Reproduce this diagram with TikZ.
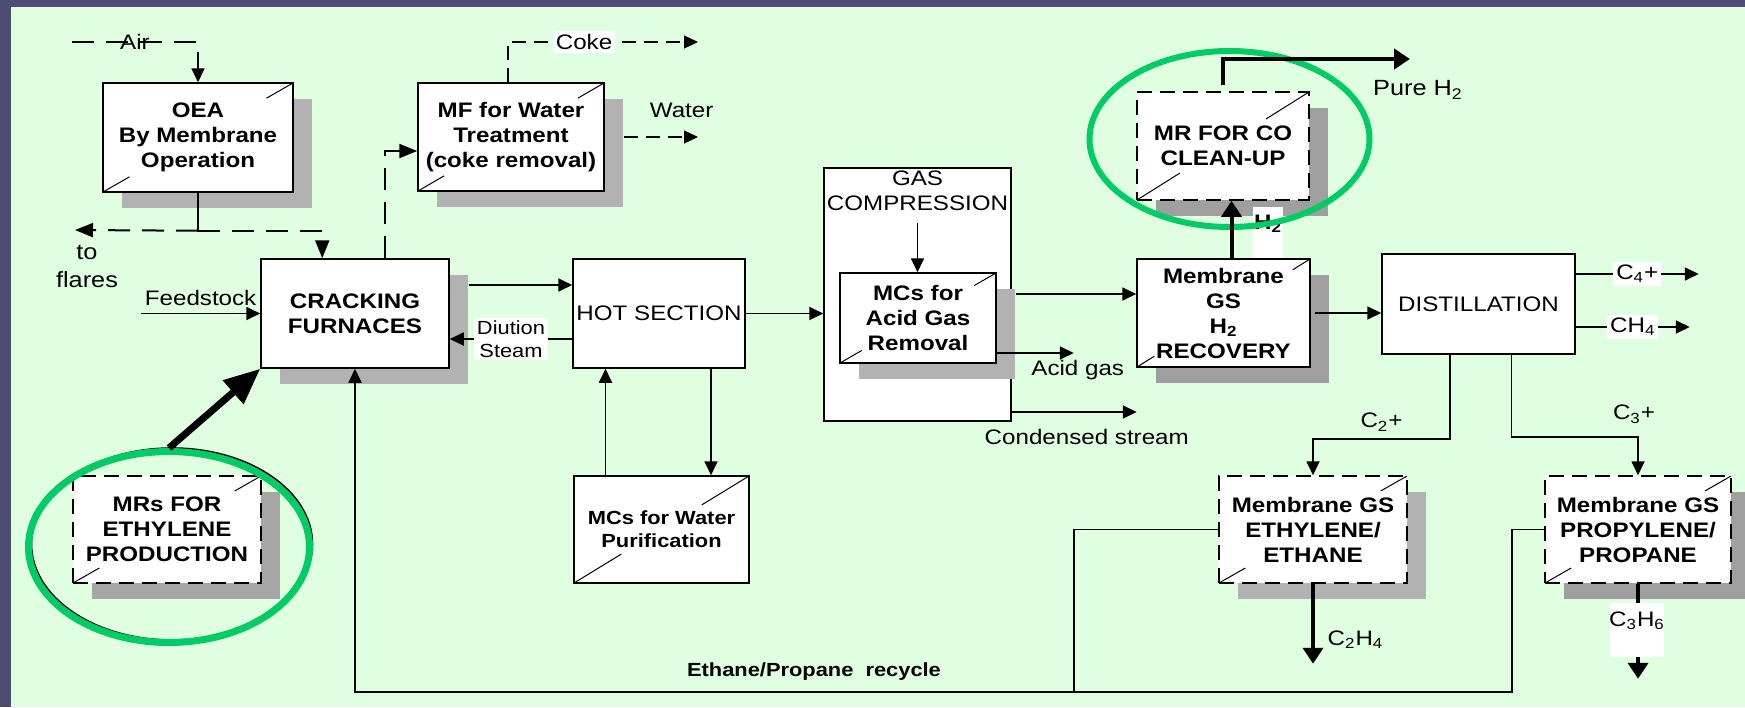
\documentclass[tikz,border=0pt]{standalone}
\usepackage{fontspec}
\setmainfont{Liberation Sans}[FakeStretch=1.15]
\usetikzlibrary{arrows.meta,shapes.geometric,shadows,calc}

\definecolor{slide}{RGB}{76,76,116}
\definecolor{panel}{RGB}{224,255,224}
\definecolor{ringgreen}{RGB}{0,204,102}
\newcommand\diagfont{\fontsize{10.5}{12.5}\selectfont}
\newcommand\smallfont{\fontsize{9.5}{11.5}\selectfont}

\tikzset{
  box/.style={draw, fill=white, line width=0.75pt, align=center, inner sep=0pt, font=\diagfont\bfseries},
  boxsize/.style 2 args={minimum width=#1*0.5pt, minimum height=#2*0.5pt},
  castshadow/.style={drop shadow={shadow xshift=9.5pt, shadow yshift=-8pt, opacity=1, fill=gray!#1}},
  castshadow/.default=60,
  membrane/.style={path picture={\draw[solid, line width=0.5pt]
      (path picture bounding box.south west) -- ($(path picture bounding box.south west)!#1!(path picture bounding box.north east)$)
      (path picture bounding box.north east) -- ($(path picture bounding box.north east)!#1!(path picture bounding box.south west)$);}},
  membrane/.default=0.14,
  dashedbox/.style={dash pattern=on 7.5pt off 4pt},
  flow/.style={->, line width=0.9pt},
  boldflow/.style={-{Triangle[length=8pt,width=10pt]}, line width=2pt},
  dashflow/.style={-{Triangle[length=9pt,width=7pt]}, line width=1pt, dash pattern=on 11pt off 6pt},
  thindash/.style={->, line width=0.6pt, dash pattern=on 7pt off 4pt},
  ring/.style={ellipse, draw=ringgreen, line width=3pt, inner sep=0pt},
  tag/.style={fill=white, inner sep=1.5pt},
  >={Triangle[length=7pt,width=6.5pt]}
}

\begin{document}
\begin{tikzpicture}[x=0.5pt, y=-0.5pt, font=\diagfont]
  \fill[slide] (0,0) rectangle (1745,707);
  \fill[panel] (11,7) rectangle (1745,707);
  \useasboundingbox (0,0) rectangle (1745,707);

  % units
  \node[box, castshadow, membrane, boxsize={190}{109}] (oea) at (198,137.5) {OEA\\By Membrane\\Operation};
  \node[box, castshadow, membrane, boxsize={186}{108}] (mf) at (511,137) {MF for Water\\Treatment\\(coke removal)};
  \node[box, castshadow, boxsize={188}{109}] (crack) at (355,313.5) {CRACKING\\FURNACES};
  \node[box, font=\diagfont, boxsize={172}{109}] (hot) at (659,313.5) {HOT SECTION};
  \node[box, boxsize={187}{253}] (gas) at (917.5,294.5) {};
  \node[align=center, inner sep=0pt] (gastext) at ([yshift=-12pt]gas.north) {GAS\\COMPRESSION};
  \node[box, castshadow, membrane, boxsize={156}{90}] (acid) at (918,318) {MCs for\\Acid Gas\\Removal};
  \node[box, castshadow=75, membrane=0.1, boxsize={173}{108}] (mgs) at (1223.5,313) {Membrane\\GS\\H\textsubscript{2}\\RECOVERY};
  \node[box, dashedbox, castshadow=75, membrane=0.25, boxsize={172}{108}] (mrco) at (1223,146) {MR FOR CO\\CLEAN-UP};
  \node[box, font=\diagfont, boxsize={193}{100}] (dist) at (1478.5,304) {DISTILLATION};
  \node[box, membrane=0.27, font=\smallfont\bfseries, boxsize={175}{107}] (mcw) at (661.5,529.5) {MCs for Water\\Purification};
  \node[box, dashedbox, castshadow=70, membrane, boxsize={188}{107}] (mrs) at (167,529.5) {MRs FOR\\ETHYLENE\\PRODUCTION};
  \node[box, dashedbox, castshadow, membrane, boxsize={188}{107}] (ethyl) at (1313,529.5) {Membrane GS\\ETHYLENE/\\ETHANE};
  \node[box, dashedbox, castshadow=75, membrane, boxsize={186}{107}] (propyl) at (1638,529.5) {Membrane GS\\PROPYLENE/\\PROPANE};

  % air side
  \coordinate (airL) at (72,42);
  \coordinate (airR) at (198,42);
  \coordinate (airdrop) at (198,52);
  \draw[line width=1pt, dash pattern=on 11pt off 6pt] (airL) -- node (airlbl) {Air} (airR);
  \draw[flow] (airdrop) -- (oea.north);
  \draw[line width=0.9pt] (oea.south) -- ++(0,38) coordinate (oeaout);
  \coordinate (flares) at (75,230);
  \draw[dashflow] (oeaout) -- (flares);
  \node[align=center, font=\fontsize{11}{14}\selectfont] (flarelbl) at (87,266) {to\\flares};
  \draw[dashflow] (oeaout) -| ([xshift=31pt]crack.north west);

  % coke and water
  \draw[dashflow] ([xshift=62.5pt]crack.north west) |- ([yshift=-7pt]mf.west);
  \coordinate (coke) at (698,42);
  \draw[thindash] ([xshift=-1.5pt]mf.north) |- node[pos=0.7, tag] {Coke} (coke);
  \coordinate (water) at (698,137);
  \draw[thindash] ([xshift=9.5pt]mf.east) -- node[pos=0.78, above=6pt] {Water} (water);

  % furnace and hot section
  \coordinate (feed) at (141,313.5);
  \draw[flow] (feed) -- node[above] {Feedstock} (crack.west);
  \draw[flow] ([xshift=9.5pt,yshift=14.25pt]crack.east) coordinate (c2h) -- (c2h -| hot.west);
  \draw[flow] ([yshift=-12.75pt]hot.west) coordinate (h2c) -- node[tag, align=center, font=\smallfont] {Diution\\Steam} (h2c -| crack.east);
  \draw[flow] ([xshift=26pt]hot.south) -- ([xshift=26pt]hot.south |- mcw.north);
  \draw[flow] ([xshift=-28pt]mcw.north) -- ([xshift=-28pt]mcw.north |- hot.south);
  \draw[flow] (hot.east) -- (hot.east -| gas.west);

  % gas compression
  \draw[flow] ([yshift=-5.5pt]gastext.south) coordinate (g2a) -- (g2a |- acid.north);
  \draw[flow] ([xshift=9.5pt,yshift=12pt]acid.east) coordinate (a2m) -- (a2m -| mgs.west);
  \draw[flow] ([yshift=-17.5pt]acid.east) -- ++(77,0) node[below, xshift=2pt] {Acid gas};
  \draw[flow] ([yshift=-58.75pt]gas.east) -- node[pos=0.6, below=5pt] {Condensed stream} ++(125,0);

  % hydrogen
  \node[fill=white, inner sep=0pt, boxsize={30}{51}] (h2bg) at (1268,232.5) {};
  \node[font=\diagfont\bfseries] (h2lbl) at (1268,224) {H\textsubscript{2}};

  % highlighted membrane reactors
  \node[ring, boxsize={280}{176}] (coring) at (1229.5,139) {};
  \node[ellipse, draw, line width=0.8pt, inner sep=0pt, boxsize={281}{192}] (mrsrim) at (172,544) {};
  \node[ring, line width=3.5pt, boxsize={281}{191}] (mrsring) at (169,547) {};

  \draw[boldflow] ([xshift=4pt]mgs.north) -- ([xshift=4pt]mgs.north |- mrco.south);
  \coordinate (pureh2) at (1410,59);
  \draw[boldflow] ([yshift=3pt]mrco.north) |- (pureh2);
  \node[font=\fontsize{11}{13}\selectfont] (pureh2lbl) at (1418,90) {Pure H\textsubscript{2}};
  \draw[-{Triangle[length=18pt,width=15pt]}, line width=3.5pt] (mrsring.north) -- (crack.south west);

  % distillation
  \draw[flow] ([xshift=2pt]mgs.east) coordinate (m2d) -- (m2d -| dist.west);
  \draw[flow] ([yshift=15pt]dist.east) -- node[tag] {C\textsubscript{4}+} ++(123,0);
  \draw[flow] ([yshift=-11.5pt]dist.east) -- node[tag] {CH\textsubscript{4}} ++(114,0);
  \draw[flow] ([xshift=-14.25pt]dist.south) -- ++(0,84) -| node[pos=0.25, above] {C\textsubscript{2}+} (ethyl.north);
  \draw[flow] ([xshift=16.5pt]dist.south) -- ++(0,82) -| node[pos=0.5, above=3pt, xshift=-2pt] {C\textsubscript{3}+} (propyl.north);
  \draw[boldflow] (ethyl.south) -- node[right, pos=0.7, xshift=3pt] {C\textsubscript{2}H\textsubscript{4}} ++(0,80);
  \draw[boldflow] (propyl.south) -- ++(0,95) coordinate (c3out);
  \node[fill=white, inner sep=0pt, boxsize={54}{54}] (c3bg) at (1637,630) {};
  \node (c3lbl) at (1637,621) {C\textsubscript{3}H\textsubscript{6}};

  % recycle
  \coordinate (recA) at (1074,692);
  \coordinate (recB) at (1512,692);
  \draw[flow] (ethyl.west) -| (recA) -| (crack.south);
  \draw[line width=0.9pt] (propyl.west) -| (recB) -- (recA);
  \node[font=\smallfont\bfseries] (reclbl) at (814,672) {Ethane/Propane\ \ recycle};
\end{tikzpicture}
\end{document}
